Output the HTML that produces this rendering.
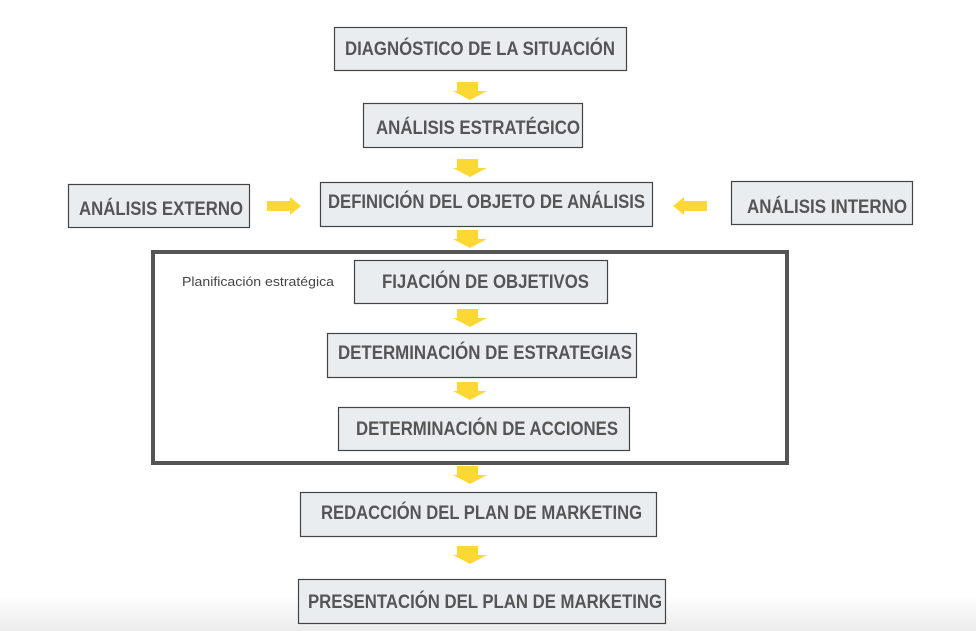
<!DOCTYPE html>
<html><head><meta charset="utf-8"><style>
html,body{margin:0;padding:0;width:976px;height:631px;overflow:hidden;background:#fff}
</style></head><body>
<svg width="976" height="631" viewBox="0 0 976 631" xmlns="http://www.w3.org/2000/svg">
<defs>
<linearGradient id="bg" x1="0" y1="0" x2="0" y2="1">
<stop offset="0" stop-color="#ffffff"/><stop offset="1" stop-color="#ececec"/>
</linearGradient>
</defs>
<rect x="0" y="595" width="976" height="36" fill="url(#bg)"/>
<g fill="#e9edf0" stroke="#444" stroke-width="1.2">
<rect x="334.5" y="27.5" width="292" height="43"/>
<rect x="363.5" y="103.5" width="219" height="44"/>
<rect x="320.5" y="182.5" width="332" height="44"/>
<rect x="68.5" y="184.5" width="181" height="43"/>
<rect x="731.5" y="181.5" width="181" height="43"/>
<rect x="354.5" y="260.5" width="253" height="43"/>
<rect x="327.5" y="333.5" width="309" height="44"/>
<rect x="338.5" y="407.5" width="291" height="43"/>
<rect x="300.5" y="492.5" width="356" height="44"/>
<rect x="298.5" y="579.5" width="367" height="44"/>
</g>
<rect x="153" y="252" width="634" height="211" fill="none" stroke="#555" stroke-width="4"/>
<g fill="#fdd835">
<polygon points="457,82 478,82 478,91 487,91 470,100 453,91 457,91"/>
<polygon points="457,159 478,159 478,168 487,168 470,177 453,168 457,168"/>
<polygon points="457,230 478,230 478,239 487,239 470,248 453,239 457,239"/>
<polygon points="457,309 478,309 478,318 487,318 470,327 453,318 457,318"/>
<polygon points="457,382 478,382 478,391 487,391 470,400 453,391 457,391"/>
<polygon points="457,466 478,466 478,475 487,475 470,484 453,475 457,475"/>
<polygon points="457,546 478,546 478,555 487,555 470,564 453,555 457,555"/>
<polygon points="267,201 290,201 290,197 301,206 290,215 290,211 267,211"/>
<polygon points="707,201 684,201 684,197 673,206 684,215 684,211 707,211"/>
</g>
<g font-family="Liberation Sans, sans-serif" font-weight="bold" font-size="19" fill="#555">
<text x="345" y="55" textLength="270" lengthAdjust="spacingAndGlyphs">DIAGNÓSTICO DE LA SITUACIÓN</text>
<text x="376" y="134" textLength="204" lengthAdjust="spacingAndGlyphs">ANÁLISIS ESTRATÉGICO</text>
<text x="328" y="208" textLength="317" lengthAdjust="spacingAndGlyphs">DEFINICIÓN DEL OBJETO DE ANÁLISIS</text>
<text x="79" y="215" textLength="164" lengthAdjust="spacingAndGlyphs">ANÁLISIS EXTERNO</text>
<text x="747" y="213" textLength="160" lengthAdjust="spacingAndGlyphs">ANÁLISIS INTERNO</text>
<text x="382" y="288" textLength="207" lengthAdjust="spacingAndGlyphs">FIJACIÓN DE OBJETIVOS</text>
<text x="338" y="359" textLength="294" lengthAdjust="spacingAndGlyphs">DETERMINACIÓN DE ESTRATEGIAS</text>
<text x="356" y="435" textLength="262" lengthAdjust="spacingAndGlyphs">DETERMINACIÓN DE ACCIONES</text>
<text x="321" y="519" textLength="321" lengthAdjust="spacingAndGlyphs">REDACCIÓN DEL PLAN DE MARKETING</text>
<text x="308" y="608" textLength="354" lengthAdjust="spacingAndGlyphs">PRESENTACIÓN DEL PLAN DE MARKETING</text>
</g>
<text x="182" y="286" font-family="Liberation Sans, sans-serif" font-size="13" fill="#444" textLength="152" lengthAdjust="spacingAndGlyphs">Planificación estratégica</text>
</svg>
</body></html>
